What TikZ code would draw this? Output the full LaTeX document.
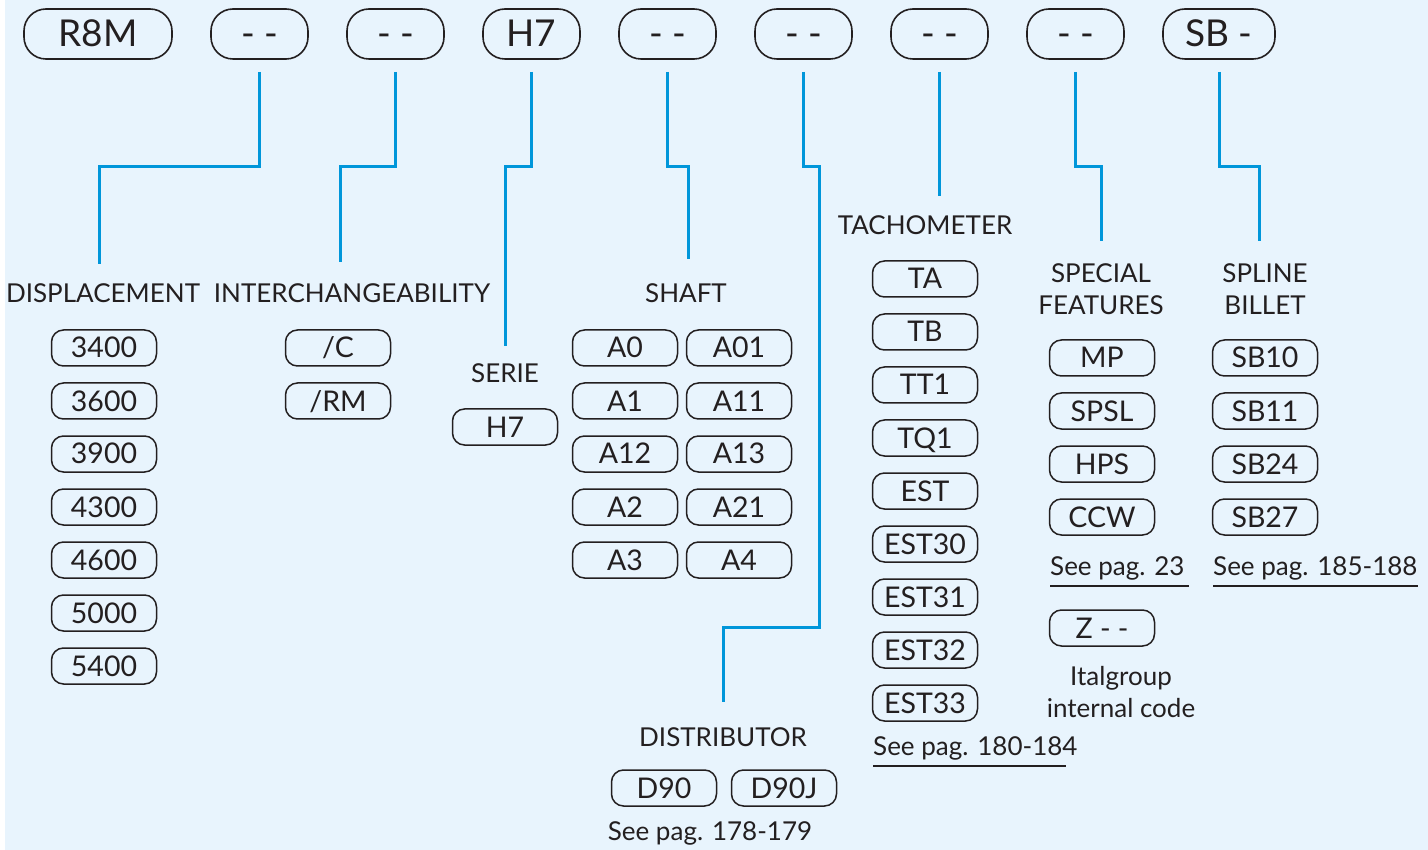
\documentclass[tikz,border=0pt]{standalone}
\usepackage{fontspec}
\setmainfont{Lato}
\usepackage{tikz}
\usetikzlibrary{positioning}
\definecolor{bgblue}{HTML}{E8F4FD}
\definecolor{linkblue}{HTML}{0096DA}
\definecolor{ink}{HTML}{231F20}

\begin{document}
\begin{tikzpicture}[
    x=1pt, y=-1pt,
    text=ink,
    code/.style={draw=ink, line width=1.6pt, rounded corners=22pt, minimum width=97pt, minimum height=50pt, inner sep=0pt, outer sep=0pt, text height=26pt, text depth=0pt, font=\fontsize{37}{40}\selectfont},
    opt/.style={draw=ink, line width=1.5pt, rounded corners=12pt, minimum width=105pt, minimum height=36pt, inner sep=0pt, outer sep=0pt, text height=20pt, text depth=0pt, font=\fontsize{28.5}{30}\selectfont},
    group/.style={font=\fontsize{26}{32}\selectfont, align=center, inner sep=0pt},
    note/.style={font=\fontsize{26}{32}\selectfont, align=center, inner xsep=0pt, inner ysep=6pt},
    link/.style={draw=linkblue, line width=3pt, shorten <=13pt, shorten >=19pt},
    rule/.style={draw=ink, line width=1.4pt}
]
\useasboundingbox (0,0) rectangle (1428,850);
\fill[bgblue] (5,0) rectangle (1428,850);

% code row
\node[code, minimum width=148pt] (r8m) at (98,34) {R8M};
\node[code, right=39pt of r8m] (cdisp) {- -};
\node[code, right=39pt of cdisp] (cinter) {- -};
\node[code, right=39pt of cinter] (cserie) {H7};
\node[code, right=39pt of cserie] (cshaft) {- -};
\node[code, right=39pt of cshaft] (cdist) {- -};
\node[code, right=39pt of cdist] (ctacho) {- -};
\node[code, right=39pt of ctacho] (cspec) {- -};
\node[code, right=39pt of cspec, minimum width=112pt] (cspline) {SB -};

% group titles
\node[group] (ldisp) at (103,293) {DISPLACEMENT};
\node[group] (linter) at (352,293) {INTERCHANGEABILITY};
\node[group] (lserie) at (505,373) {SERIE};
\node[group] (lshaft) at (686,293) {SHAFT};
\node[group] (ltacho) at (925,225) {TACHOMETER};
\node[group] (lspec) at (1101,289) {SPECIAL\\FEATURES};
\node[group] (lspline) at (1265,289) {SPLINE\\BILLET};
\node[group] (ldist) at (723,737) {DISTRIBUTOR};

% displacement
\node[opt] (d3400) at (104,348) {3400};
\node[opt, below=17pt of d3400] (d3600) {3600};
\node[opt, below=17pt of d3600] (d3900) {3900};
\node[opt, below=17pt of d3900] (d4300) {4300};
\node[opt, below=17pt of d4300] (d4600) {4600};
\node[opt, below=17pt of d4600] (d5000) {5000};
\node[opt, below=17pt of d5000] (d5400) {5400};

% interchangeability
\node[opt] (ic) at (338,348) {/C};
\node[opt, below=17pt of ic] (irm) {/RM};

% serie
\node[opt] (sh7) at (505,427) {H7};

% shaft
\node[opt] (a0) at (625,348) {A0};
\node[opt, right=9pt of a0] (a01) {A01};
\node[opt, below=17pt of a0] (a1) {A1};
\node[opt, below=17pt of a01] (a11) {A11};
\node[opt, below=17pt of a1] (a12) {A12};
\node[opt, below=17pt of a11] (a13) {A13};
\node[opt, below=17pt of a12] (a2) {A2};
\node[opt, below=17pt of a13] (a21) {A21};
\node[opt, below=17pt of a2] (a3) {A3};
\node[opt, below=17pt of a21] (a4) {A4};

% tachometer
\node[opt] (ta) at (925,279) {TA};
\node[opt, below=17pt of ta] (tb) {TB};
\node[opt, below=17pt of tb] (tt1) {TT1};
\node[opt, below=17pt of tt1] (tq1) {TQ1};
\node[opt, below=17pt of tq1] (est) {EST};
\node[opt, below=17pt of est] (est30) {EST30};
\node[opt, below=17pt of est30] (est31) {EST31};
\node[opt, below=17pt of est31] (est32) {EST32};
\node[opt, below=17pt of est32] (est33) {EST33};
\node[note, anchor=west] (ntacho) at (873,748) {See pag. 180-184};
\draw[rule] (ntacho.south west) -- ([xshift=-12pt]ntacho.south east);

% special features
\node[opt] (mp) at (1102,358) {MP};
\node[opt, below=17pt of mp] (spsl) {SPSL};
\node[opt, below=17pt of spsl] (hps) {HPS};
\node[opt, below=17pt of hps] (ccw) {CCW};
\node[note, anchor=west] (nspec) at (1050,568) {See pag. 23};
\draw[rule] (nspec.south west) -- ([xshift=4pt]nspec.south east);
\node[opt] (zcode) at (1102,628) {Z - -};
\node[note, inner ysep=0pt] (nital) at (1121,692) {Italgroup\\internal code};

% spline billet
\node[opt] (sb10) at (1265,358) {SB10};
\node[opt, below=17pt of sb10] (sb11) {SB11};
\node[opt, below=17pt of sb11] (sb24) {SB24};
\node[opt, below=17pt of sb24] (sb27) {SB27};
\node[note, anchor=west] (nspline) at (1213,568) {See pag. 185-188};
\draw[rule] (nspline.south west) -- (nspline.south east);

% distributor
\node[opt] (d90) at (664,788) {D90};
\node[opt, right=15pt of d90] (d90j) {D90J};
\node[note] (ndist) at (710,833) {See pag. 178-179};

% connectors
\coordinate (jog) at (0,167);
\coordinate (dbend) at (819,627);
\draw[link] (cdisp.south) |- ([xshift=-4pt]ldisp.north |- jog) -- ([xshift=-4pt]ldisp.north);
\draw[link, shorten >=21pt] (cinter.south) |- ([xshift=-12pt]linter.north |- jog) -- ([xshift=-12pt]linter.north);
\draw[link, shorten >=17pt] (cserie.south) |- (lserie.north |- jog) -- (lserie.north);
\draw[link, shorten >=24pt] (cshaft.south) |- ([xshift=2pt]lshaft.north |- jog) -- ([xshift=2pt]lshaft.north);
\draw[link, shorten >=25pt] (cdist.south) |- (dbend |- jog) -- (dbend) -| (ldist.north);
\draw[link] (ctacho.south) -- (ctacho.south |- ltacho.north);
\draw[link, shorten >=22pt] (cspec.south) |- (lspec.north |- jog) -- (lspec.north);
\draw[link, shorten >=22pt] (cspline.south) |- ([xshift=-6pt]lspline.north |- jog) -- ([xshift=-6pt]lspline.north);
\end{tikzpicture}
\end{document}
